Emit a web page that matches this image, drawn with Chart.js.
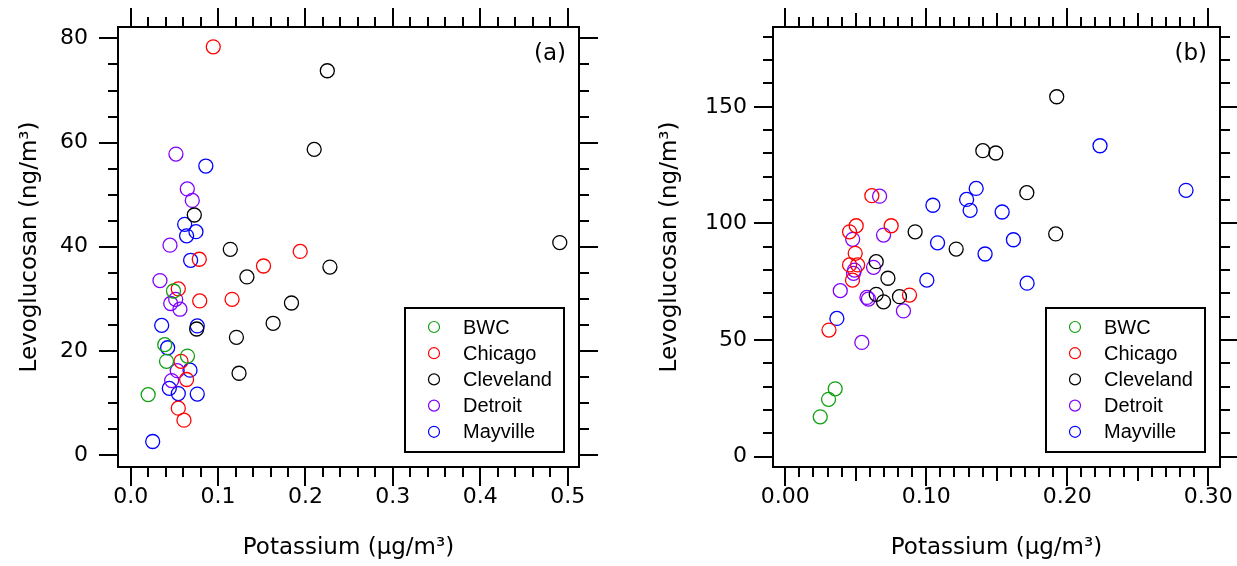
<!DOCTYPE html>
<html>
<head>
<meta charset="utf-8">
<script src="https://cdn.jsdelivr.net/npm/chart.js@4.4.1/dist/chart.umd.min.js"></script>
<style>
html, body { margin: 0; padding: 0; background: #fff; }
#wrapA { position: absolute; left: 0; top: 0; width: 618px; height: 566px; }
#wrapB { position: absolute; left: 618px; top: 0; width: 619px; height: 566px; }
</style>
</head>
<body>
<div id="wrapA"><canvas id="chartA" width="618" height="566"></canvas></div>
<div id="wrapB"><canvas id="chartB" width="619" height="566"></canvas></div>
<script>
// site names + colours
let sites = ["BWC", "Chicago", "Cleveland", "Detroit", "Mayville"];
let siteColors = ["#10a010", "#ff0000", "#000000", "#8000ff", "#0000ff"];

// panel (a): potassium (ug/m3) and levoglucosan (ng/m3)
let kBWC_a = [0.020, 0.039, 0.041, 0.049, 0.065];
let levBWC_a = [11.6, 21.2, 18.0, 31.5, 19.0];
let kChicago_a = [0.0945, 0.194, 0.0785, 0.152, 0.0545, 0.079, 0.116, 0.0576, 0.064, 0.0545, 0.061];
let levChicago_a = [78.4, 39.1, 37.6, 36.3, 31.9, 29.6, 29.9, 18.0, 14.5, 9.0, 6.7];
let kCleveland_a = [0.0728, 0.114, 0.133, 0.184, 0.163, 0.0755, 0.121, 0.124, 0.225, 0.210, 0.491, 0.228];
let levCleveland_a = [46.1, 39.5, 34.2, 29.2, 25.3, 24.2, 22.6, 15.7, 73.8, 58.7, 40.8, 36.1];
let kDetroit_a = [0.0518, 0.0648, 0.0705, 0.045, 0.0335, 0.0515, 0.0458, 0.0564, 0.0533, 0.0469];
let levDetroit_a = [57.8, 51.1, 48.9, 40.3, 33.5, 29.9, 29.1, 28.0, 16.2, 14.3];
let kMayville_a = [0.086, 0.0618, 0.0747, 0.064, 0.0686, 0.0355, 0.0762, 0.0423, 0.0679, 0.0442, 0.0545, 0.0762, 0.0252];
let levMayville_a = [55.5, 44.3, 42.9, 42.1, 37.4, 24.9, 24.8, 20.6, 16.3, 12.8, 11.8, 11.7, 2.6];

// panel (b)
let kBWC_b = [0.0248, 0.0307, 0.0354];
let levBWC_b = [17.1, 24.6, 29.1];
let kChicago_b = [0.0614, 0.0503, 0.0751, 0.0456, 0.0496, 0.0456, 0.0513, 0.0477, 0.0881, 0.031];
let levChicago_b = [111.9, 99.0, 99.0, 96.4, 87.2, 82.2, 82.2, 75.7, 69.3, 54.3];
let kCleveland_b = [0.1925, 0.1401, 0.1493, 0.1713, 0.0921, 0.1918, 0.1212, 0.0645, 0.0728, 0.0645, 0.0697, 0.081];
let levCleveland_b = [154.3, 131.2, 130.2, 113.2, 96.4, 95.5, 89.0, 83.6, 76.5, 69.6, 66.4, 68.6];
let kDetroit_b = [0.0669, 0.0478, 0.0697, 0.0626, 0.0491, 0.0484, 0.039, 0.0579, 0.059, 0.0838, 0.0543];
let levDetroit_b = [111.7, 93.2, 95.0, 81.2, 80.0, 78.6, 71.2, 68.3, 67.6, 62.5, 49.0];
let kMayville_b = [0.2232, 0.2842, 0.1354, 0.1286, 0.1047, 0.1311, 0.1538, 0.108, 0.1618, 0.1417, 0.1715, 0.1004, 0.0366];
let levMayville_b = [133.3, 114.2, 115.0, 110.3, 107.8, 105.6, 104.9, 91.7, 93.0, 86.9, 74.4, 75.7, 59.3];

// tick values and labels
let xTicksA = [0, 0.1, 0.2, 0.3, 0.4, 0.5];
let xLabelsA = ["0.0", "0.1", "0.2", "0.3", "0.4", "0.5"];
let yTicksA = [0, 20, 40, 60, 80];
let yLabelsA = ["0", "20", "40", "60", "80"];
let xTicksB = [0, 0.1, 0.2, 0.3];
let xLabelsB = ["0.00", "0.10", "0.20", "0.30"];
let yTicksB = [0, 50, 100, 150];
let yLabelsB = ["0", "50", "100", "150"];

Chart.defaults.font.family = "'DejaVu Sans', sans-serif";
Chart.defaults.color = "#000";

function pts(xs, ys) {
    return xs.map((v, i) => ({ x: v, y: ys[i] }));
}

// frame, major + minor tick marks on all four sides, panel letter, legend
const frameTicks = {
    id: "frameTicks",
    afterDraw(chart, args, o) {
        const ctx = chart.ctx;
        const a = chart.chartArea;
        const x = chart.scales.x, y = chart.scales.y;
        ctx.save();
        ctx.strokeStyle = "#000";
        ctx.lineWidth = 2;
        function ln(x1, y1, x2, y2) {
            ctx.beginPath(); ctx.moveTo(x1, y1); ctx.lineTo(x2, y2); ctx.stroke();
        }
        function lenFor(v, major, mid) {
            let r = Math.round(v / major);
            if (Math.abs(v - r * major) < 1e-9) return 19;
            if (mid && Math.abs(v / mid - Math.round(v / mid)) < 1e-9) return 14;
            return 10;
        }
        for (let v = Math.ceil(x.min / o.xMinor) * o.xMinor; v <= x.max + 1e-9; v += o.xMinor) {
            v = Math.round(v * 1e6) / 1e6;
            let px = Math.round(x.getPixelForValue(v));
            let l = lenFor(v, o.xMajor, o.xMid);
            ln(px, a.bottom, px, a.bottom + l);
            ln(px, a.top, px, a.top - l);
        }
        for (let v = Math.ceil(y.min / o.yMinor) * o.yMinor; v <= y.max + 1e-9; v += o.yMinor) {
            let py = Math.round(y.getPixelForValue(v));
            let l = lenFor(v, o.yMajor, null);
            ln(a.left, py, a.left - l, py);
            ln(a.right, py, a.right + l, py);
        }
        ctx.strokeRect(a.left, a.top, a.right - a.left, a.bottom - a.top);

        // panel letter
        ctx.fillStyle = "#000";
        ctx.font = "23px 'DejaVu Sans', sans-serif";
        ctx.textAlign = "right";
        ctx.textBaseline = "middle";
        ctx.fillText(o.letter, a.right - 13, a.top + 27);

        // legend box
        let bw = 159, bh = 144;
        let bx = a.right - 15 - bw, by = a.bottom - 15 - bh;
        ctx.strokeRect(bx, by, bw, bh);
        ctx.font = "20px 'Liberation Sans', Arial, sans-serif";
        ctx.textAlign = "left";
        chart.data.datasets.forEach((ds, i) => {
            let cy = by + 19 + i * 26.2;
            ctx.beginPath();
            ctx.lineWidth = 1.2;
            ctx.strokeStyle = ds.borderColor;
            ctx.arc(bx + 29, cy, 5.5, 0, Math.PI * 2);
            ctx.stroke();
            ctx.fillText(ds.label, bx + 58, cy + 1);
        });
        ctx.restore();
    }
};

function makeChart(id, series, cfg) {
    return new Chart(id, {
        type: "scatter",
        data: {
            datasets: series.map((s, i) => ({
                label: sites[i],
                data: s,
                borderColor: siteColors[i],
                backgroundColor: "rgba(0,0,0,0)",
                pointRadius: 7,
                pointBorderWidth: 1.3
            }))
        },
        options: {
            responsive: false,
            animation: false,
            events: [],
            layout: { padding: { top: 27, right: cfg.rightPad, left: 0, bottom: 0 } },
            plugins: {
                legend: { display: false },
                tooltip: { enabled: false },
                frameTicks: cfg.ticks
            },
            scales: {
                x: {
                    type: "linear",
                    min: cfg.xMin, max: cfg.xMax,
                    grid: { display: false, drawTicks: false },
                    border: { display: false },
                    afterBuildTicks: (s) => { s.ticks = cfg.xTicks.map(v => ({ value: v })); },
                    afterFit: (s) => {
                        s.height = 99;
                        s.paddingLeft = 0; s.paddingRight = 0;
                    },
                    ticks: {
                        padding: 17,
                        font: { size: 22 },
                        maxRotation: 0,
                        callback: (v, i) => cfg.xLabels[i]
                    },
                    title: {
                        display: true,
                        text: "Potassium (\u03bcg/m\u00b3)",
                        font: { size: 23 },
                        padding: { top: 0, bottom: 4 }
                    }
                },
                y: {
                    type: "linear",
                    min: cfg.yMin, max: cfg.yMax,
                    grid: { display: false, drawTicks: false },
                    border: { display: false },
                    afterBuildTicks: (s) => { s.ticks = cfg.yTicks.map(v => ({ value: v })); },
                    afterFit: (s) => {
                        s.width = cfg.yWidth;
                        s.paddingTop = 0; s.paddingBottom = 0;
                    },
                    ticks: {
                        padding: cfg.yPad,
                        font: { size: 22 },
                        callback: (v, i) => cfg.yLabels[i]
                    },
                    title: {
                        display: true,
                        text: "Levoglucosan (ng/m\u00b3)",
                        font: { size: 23 },
                        padding: { top: cfg.yTitlePad, bottom: 0 }
                    }
                }
            }
        },
        plugins: [frameTicks]
    });
}

makeChart("chartA", [
    pts(kBWC_a, levBWC_a),
    pts(kChicago_a, levChicago_a),
    pts(kCleveland_a, levCleveland_a),
    pts(kDetroit_a, levDetroit_a),
    pts(kMayville_a, levMayville_a)
], {
    xMin: -0.0145, xMax: 0.513, yMin: -2.3, yMax: 82.2,
    xTicks: xTicksA, xLabels: xLabelsA, yTicks: yTicksA, yLabels: yLabelsA,
    rightPad: 39, yWidth: 118, yPad: 30, yTitlePad: 16,
    ticks: { xMinor: 0.02, xMajor: 0.1, xMid: null, yMinor: 5, yMajor: 20, letter: "(a)" }
});

makeChart("chartB", [
    pts(kBWC_b, levBWC_b),
    pts(kChicago_b, levChicago_b),
    pts(kCleveland_b, levCleveland_b),
    pts(kDetroit_b, levDetroit_b),
    pts(kMayville_b, levMayville_b)
], {
    xMin: -0.0087, xMax: 0.3083, yMin: -4.4, yMax: 184.2,
    xTicks: xTicksB, xLabels: xLabelsB, yTicks: yTicksB, yLabels: yLabelsB,
    rightPad: 17, yWidth: 155, yPad: 26, yTitlePad: 38,
    ticks: { xMinor: 0.01, xMajor: 0.1, xMid: 0.05, yMinor: 10, yMajor: 50, letter: "(b)" }
});
</script>
</body>
</html>
